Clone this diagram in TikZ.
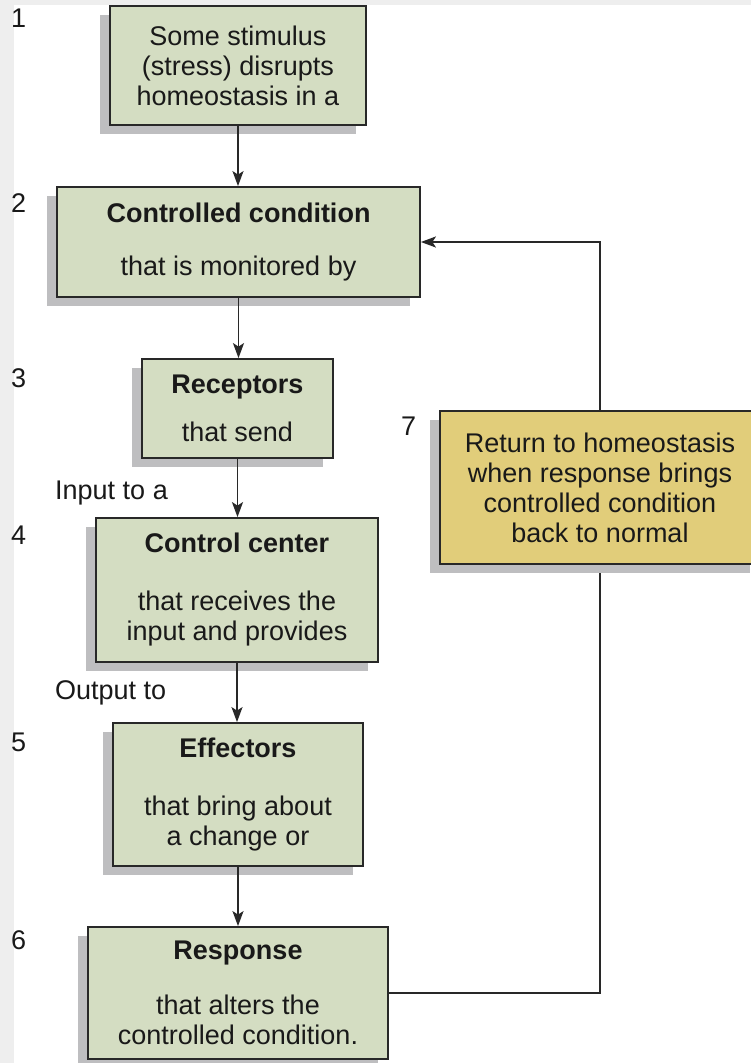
\documentclass[tikz,border=0pt]{standalone}
\usepackage{fontspec}
\setmainfont{Liberation Sans}
\usetikzlibrary{arrows.meta,shadows}
\definecolor{boxgreen}{RGB}{212,221,194}
\definecolor{boxyellow}{RGB}{225,205,122}
\definecolor{inkline}{RGB}{40,40,40}
\definecolor{shade}{RGB}{190,190,192}
\definecolor{margin}{RGB}{238,238,238}
\begin{document}
\begin{tikzpicture}[x=1pt,y=-1pt,
  stepbox/.style={draw=inkline, line width=1.8pt, fill=boxgreen, align=center,
    inner sep=0pt, font=\fontsize{27}{30}\selectfont, text=black!90,
    drop shadow={shadow xshift=-10pt, shadow yshift=-9pt, fill=shade, opacity=1}},
  notebox/.style={stepbox, fill=boxyellow},
  tag/.style={anchor=base west, inner sep=0pt, font=\fontsize{27}{30}\selectfont, text=black!90},
  flow/.style={draw=inkline, line width=1.8pt, -{Stealth[length=15pt,width=11pt,inset=3.5pt]}}
]
\clip (0,0) rectangle (751,1063);
\fill[margin] (0,0) rectangle (751,1063);
\fill[white] (14,5) rectangle (751,1063);

% main chain of steps
\node[stepbox, minimum width=256pt, minimum height=119pt] (stim) at (238,65.5)
  {Some stimulus\\(stress) disrupts\\homeostasis in a};
\node[stepbox, minimum width=363pt, minimum height=110pt] (cond) at (238.5,242)
  {\textbf{Controlled condition}\\[23pt]that is monitored by};
\node[stepbox, minimum width=191pt, minimum height=99pt] (recp) at (237.5,408.5)
  {\textbf{Receptors}\\[18pt]that send};
\node[stepbox, minimum width=282pt, minimum height=144pt] (ctrl) at (237,590)
  {\textbf{Control center}\\[28pt]that receives the\\input and provides};
\node[stepbox, minimum width=250pt, minimum height=143pt] (effc) at (238,794.5)
  {\textbf{Effectors}\\[28pt]that bring about\\a change or};
\node[stepbox, minimum width=300pt, minimum height=132pt] (resp) at (238,993)
  {\textbf{Response}\\[25pt]that alters the\\controlled condition.};

% connectors down the chain
\draw[flow] (stim.south) -- (stim.south |- cond.north);
\draw[flow] (cond.south) -- (cond.south |- recp.north);
\draw[flow] (recp.south) -- (recp.south |- ctrl.north);
\draw[flow] (ctrl.south) -- (ctrl.south |- effc.north);
\draw[flow] (effc.south) -- (effc.south |- resp.north);

% feedback loop back to the controlled condition
\coordinate (loopx) at (600,0);
\draw[flow] (resp.east) -- (resp.east -| loopx) -- (loopx |- cond.east) -- (cond.east);

\node[notebox, minimum width=320pt, minimum height=153pt] (back) at (600,487.5)
  {Return to homeostasis\\when response brings\\controlled condition\\back to normal};

% step numbers and side labels
\node[tag] (n1) at (11,27.5) {1};
\node[tag] (n2) at (11,212.5) {2};
\node[tag] (n3) at (11,387.5) {3};
\node[tag] (n4) at (11,544.5) {4};
\node[tag] (n5) at (11,751.5) {5};
\node[tag] (n6) at (11,949.5) {6};
\node[tag] (n7) at (401,435.5) {7};
\node[tag] (inp) at (55,499) {Input to a};
\node[tag] (outp) at (55,699) {Output to};
\end{tikzpicture}
\end{document}
